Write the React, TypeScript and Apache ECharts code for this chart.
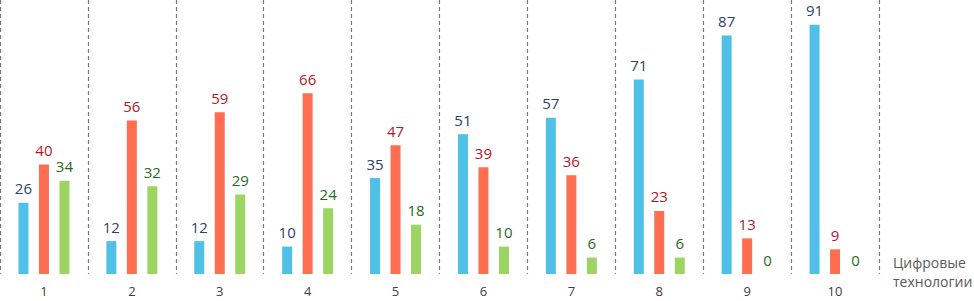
import React, { useEffect, useRef } from "react";
import * as echarts from "echarts";

const categories = ["1", "2", "3", "4", "5", "6", "7", "8", "9", "10"];
const blueValues = [26, 12, 12, 10, 35, 51, 57, 71, 87, 91];
const redValues = [40, 56, 59, 66, 47, 39, 36, 23, 13, 9];
const greenValues = [34, 32, 29, 24, 18, 10, 6, 6, 0, 0];
const axisTitle = "Цифровые\nтехнологии";

const FONT = "'Open Sans', 'Noto Sans', sans-serif";

function makeSeries(name: string, data: number[], color: string, labelColor: string) {
  return {
    name,
    type: "bar",
    data,
    barWidth: 10,
    barGap: "105%",
    itemStyle: { color },
    label: {
      show: true,
      position: "top",
      distance: 7,
      color: labelColor,
      fontSize: 15,
      fontFamily: FONT,
    },
  };
}

export default function App() {
  const ref = useRef<HTMLDivElement>(null);
  useEffect(() => {
    if (!ref.current) return;
    const chart = echarts.init(ref.current, undefined, { renderer: "svg" });
    chart.setOption({
      animation: false,
      grid: { left: 0, right: 95, top: 0, bottom: 27 },
      xAxis: {
        type: "category",
        data: categories,
        axisLine: { show: false },
        axisTick: { show: false },
        axisLabel: {
          color: "#404040",
          fontSize: 13,
          lineHeight: 13,
          fontFamily: FONT,
          margin: 10,
        },
        splitLine: {
          show: true,
          lineStyle: { color: "#7a7a7a", type: [4, 3], width: 1.2 },
        },
      },
      yAxis: {
        type: "value",
        min: 0,
        max: 100,
        show: false,
        splitLine: { show: false },
      },
      graphic: [
        {
          type: "text",
          left: 893,
          top: 253,
          style: {
            text: axisTitle,
            fill: "#595959",
            fontSize: 14,
            fontFamily: FONT,
            lineHeight: 19,
          },
        },
      ],
      series: [
        makeSeries("blue", blueValues, "#4FC1E9", "#2F3F6A"),
        makeSeries("red", redValues, "#FF6E50", "#B0182A"),
        makeSeries("green", greenValues, "#9CD562", "#1F6A1F"),
      ],
    });
    return () => chart.dispose();
  }, []);
  return <div ref={ref} style={{ width: 974, height: 301, position: "absolute", left: 0, top: 0 }} />;
}
